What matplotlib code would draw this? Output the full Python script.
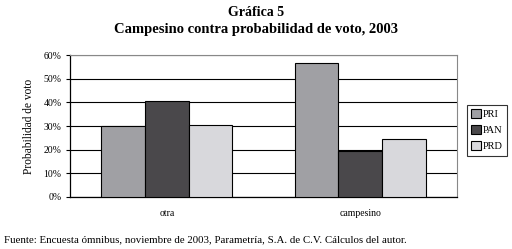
import matplotlib
matplotlib.use("Agg")
import matplotlib.pyplot as plt
import numpy as np

categories = ["otra", "campesino"]
parties = ["PRI", "PAN", "PRD"]
pri = [29.8, 56.5]
pan = [40.4, 19.4]
prd = [30.3, 24.4]
colors = ["#a0a0a4", "#4a484b", "#d8d8dc"]
yticks = [0, 10, 20, 30, 40, 50, 60]

plt.rcParams["font.family"] = ["Liberation Serif", "DejaVu Serif"]

fig = plt.figure(figsize=(5.12, 2.49), dpi=100)
ax = fig.add_axes([70 / 512, 1 - 197 / 249, 387 / 512, 142 / 249])

x = np.arange(len(categories))
w = 0.225
for i, (vals, name) in enumerate(zip([pri, pan, prd], parties)):
    ax.bar(x + (i - 1) * w, vals, w, color=colors[i], edgecolor="black",
           linewidth=0.8, label=name, zorder=3)

ax.set_xlim(-0.5, 1.5)
ax.set_ylim(0, 60)
ax.set_yticks(yticks)
ax.set_yticklabels([f"{t}%" for t in yticks], fontsize=7)
ax.set_xticks(x)
ax.set_xticklabels(categories, fontsize=7)
ax.tick_params(axis="x", length=0, pad=9)
ax.tick_params(axis="y", length=3, width=0.8, pad=3)
ax.grid(axis="y", color="black", linewidth=0.8, zorder=0)
ax.set_ylabel("Probabilidad de voto", fontsize=8.3, labelpad=6)
for s in ["top", "right"]:
    ax.spines[s].set_color("#888888")
    ax.spines[s].set_linewidth(0.8)
for s in ["left", "bottom"]:
    ax.spines[s].set_linewidth(0.9)

leg = fig.legend(loc="upper left", bbox_to_anchor=(467 / 512, 1 - 105 / 249),
                 fontsize=7.5, frameon=True, fancybox=False, edgecolor="black",
                 handlelength=0.9, handleheight=0.9, handletextpad=0.25,
                 borderpad=0.4, labelspacing=0.6, borderaxespad=0)
leg.get_frame().set_linewidth(0.8)

fig.text(0.5, 1 - 12 / 249, "Gráfica 5", ha="center", va="center",
         fontsize=10, fontweight="semibold")
fig.text(0.5, 1 - 30 / 249, "Campesino contra probabilidad de voto, 2003",
         ha="center", va="center", fontsize=10.5, fontweight="semibold")
fig.text(4 / 512, 1 - 240 / 249,
         "Fuente: Encuesta ómnibus, noviembre de 2003, Parametría, S.A. de C.V. Cálculos del autor.",
         ha="left", va="center", fontsize=7.8)

fig.savefig("out.png", dpi=100)
